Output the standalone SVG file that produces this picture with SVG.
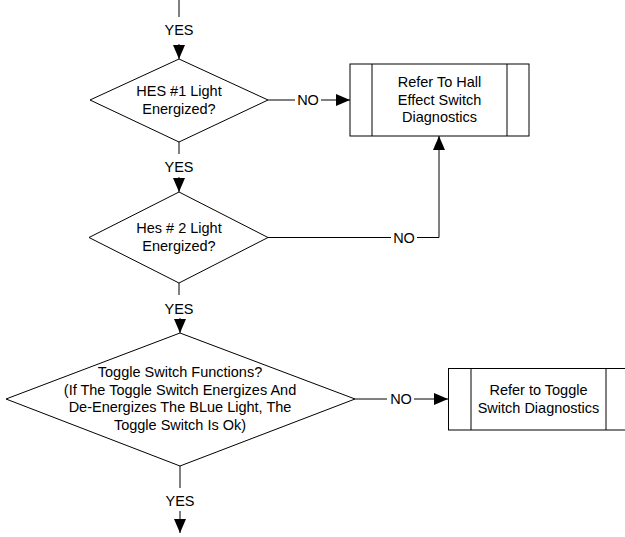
<svg xmlns="http://www.w3.org/2000/svg" width="625" height="537" viewBox="0 0 625 537">
<style>
.s{fill:#fff;stroke:#000;stroke-width:1}
.c{fill:none;stroke:#000;stroke-width:1}
text{font-family:"Liberation Sans",Arial,sans-serif;font-size:14.5px;fill:#000;text-anchor:middle}
</style>
<defs>
<marker id="ah" markerUnits="userSpaceOnUse" markerWidth="14" markerHeight="12" refX="14" refY="6" orient="auto">
<path d="M0,0 L14,6 L0,12 z" fill="#000"/>
</marker>
</defs>
<rect width="625" height="537" fill="#fff"/>
<g id="connectors">
<line class="c" x1="179" y1="0" x2="179" y2="17"/>
<text x="179" y="35">YES</text>
<line class="c" x1="179" y1="44" x2="179" y2="59" marker-end="url(#ah)"/>
<line class="c" x1="179" y1="142" x2="179" y2="154"/>
<text x="179" y="172">YES</text>
<line class="c" x1="179" y1="177" x2="179" y2="192" marker-end="url(#ah)"/>
<line class="c" x1="179" y1="283" x2="179" y2="295"/>
<text x="179" y="314">YES</text>
<line class="c" x1="180" y1="318" x2="180" y2="333" marker-end="url(#ah)"/>
<line class="c" x1="180" y1="466" x2="180" y2="488"/>
<text x="180" y="506">YES</text>
<line class="c" x1="180" y1="511" x2="180" y2="533" marker-end="url(#ah)"/>
<line class="c" x1="268" y1="100" x2="295" y2="100"/>
<text x="308" y="105.2">NO</text>
<line class="c" x1="321" y1="100" x2="350" y2="100" marker-end="url(#ah)"/>
<line class="c" x1="268" y1="237.5" x2="391" y2="237.5"/>
<text x="404" y="242.7">NO</text>
<polyline class="c" points="417,237.5 439,237.5 439,136" marker-end="url(#ah)"/>
<line class="c" x1="355" y1="399" x2="387" y2="399"/>
<text x="401" y="404.2">NO</text>
<line class="c" x1="414" y1="399" x2="448" y2="399" marker-end="url(#ah)"/>
</g>
<g id="d1">
<polygon class="s" points="179,59 268,100 179,142 90,100"/>
<text x="179" y="95.5">HES #1 Light</text>
<text x="179" y="113.5">Energized?</text>
</g>
<g id="d2">
<polygon class="s" points="179,192 268,237.5 179,283 89,237.5"/>
<text x="179" y="233">Hes # 2 Light</text>
<text x="179" y="251">Energized?</text>
</g>
<g id="d3">
<polygon class="s" points="180,333 355,399 180,466 6,399"/>
<text x="180" y="377">Toggle Switch Functions?</text>
<text x="180" y="394.5">(If The Toggle Switch Energizes And</text>
<text x="180" y="412">De-Energizes The BLue Light, The</text>
<text x="180" y="429.5">Toggle Switch Is Ok)</text>
</g>
<g id="b1">
<rect class="s" x="350" y="64" width="179" height="72"/>
<line class="c" x1="372" y1="64" x2="372" y2="136"/>
<line class="c" x1="507" y1="64" x2="507" y2="136"/>
<text x="439.5" y="87">Refer To Hall</text>
<text x="439.5" y="104.5">Effect Switch</text>
<text x="439.5" y="122">Diagnostics</text>
</g>
<g id="b2">
<rect class="s" x="448.5" y="368.5" width="181" height="61.5"/>
<line class="c" x1="471" y1="368.5" x2="471" y2="430"/>
<line class="c" x1="606" y1="368.5" x2="606" y2="430"/>
<text x="538.5" y="395">Refer to Toggle</text>
<text x="538.5" y="412.5">Switch Diagnostics</text>
</g>
</svg>
